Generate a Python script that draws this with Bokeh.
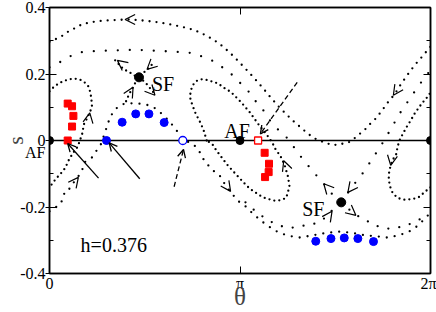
import math
from bokeh.plotting import figure
from bokeh.models import Range1d, FixedTicker, LinearAxis, Label, Span, Arrow, OpenHead, ColumnDataSource
from bokeh.embed import file_html
from bokeh.resources import INLINE

PI = math.pi

# ---------------- data ----------------
x_ticks = [0.0, PI, 2 * PI]
x_tick_labels = ["0", "π", "2π"]
y_ticks = [-0.4, -0.2, 0.0, 0.2, 0.4]
y_tick_labels = ["-0.4", "-0.2", "0", "0.2", "0.4"]
y_minor_ticks = [-0.3, -0.1, 0.1, 0.3]
af_side_label_s = -0.036   # "AF" written just below the 0 label, beside the left axis

af_theta = [0.0, PI, 2 * PI]
af_s = [0.0, 0.0, 0.0]
sf_theta = [1.476, 4.811]
sf_s = [0.190, -0.186]

red_theta = [0.300, 0.372, 0.394, 0.372, 0.300, 3.548, 3.620, 3.614, 3.555]
red_s = [0.111, 0.103, 0.074, 0.042, 0.0, -0.037, -0.070, -0.095, -0.110]
red_open_theta = [3.440]
red_open_s = [0.0]
blue_theta = [0.940, 1.198, 1.422, 1.640, 1.891, 4.391, 4.642, 4.861, 5.085, 5.343]
blue_s = [0.0, 0.055, 0.080, 0.080, 0.054, -0.303, -0.295, -0.293, -0.295, -0.304]
blue_open_theta = [2.198]
blue_open_s = [0.0]

# trajectories
A_theta = [0.000, 0.082, 0.213, 0.312, 0.443, 0.541, 0.673, 0.787, 1.033, 1.312, 1.526, 1.739, 1.936,
           2.182, 2.379, 2.559, 2.707, 2.822, 2.969, 3.100, 3.232, 3.379, 3.527, 3.658, 3.789, 3.921,
           4.035, 4.150, 4.265, 4.363, 4.478, 4.560, 4.642, 4.724, 4.823, 4.921, 5.003, 5.085, 5.184,
           5.266, 5.381, 5.479, 5.577, 5.692, 5.791, 5.906, 6.020, 6.135, 6.250, 6.283]
A_s = [0.297, 0.303, 0.315, 0.328, 0.340, 0.350, 0.355, 0.359, 0.362, 0.364, 0.361, 0.357, 0.351,
       0.342, 0.333, 0.318, 0.303, 0.288, 0.265, 0.241, 0.216, 0.187, 0.156, 0.127, 0.100, 0.076,
       0.056, 0.038, 0.020, 0.007, -0.002, -0.007, -0.013, -0.013, -0.010, -0.007, 0.002, 0.016, 0.029,
       0.046, 0.066, 0.089, 0.114, 0.139, 0.168, 0.198, 0.226, 0.250, 0.275, 0.282]

B1_theta = [0.000, 0.148, 0.312, 0.484, 0.750, 1.411, 2.075, 2.374, 2.712, 2.974, 3.128, 3.276, 3.396,
            3.522, 3.614, 3.757, 3.921, 4.167, 4.359, 4.560, 4.703, 4.811]
B1_s = [0.220, 0.233, 0.251, 0.265, 0.269, 0.273, 0.267, 0.263, 0.238, 0.204, 0.176, 0.149, 0.119,
        0.092, 0.065, 0.035, 0.007, -0.054, -0.096, -0.138, -0.171, -0.186]
B2_theta = [4.811, 4.975, 5.156, 5.304, 5.523, 5.779, 6.097, 6.283]
B2_s = [-0.186, -0.143, -0.101, -0.061, 0.001, 0.082, 0.167, 0.212]

C_theta = [2.592, 2.543, 2.498, 2.400, 2.346, 2.318, 2.324, 2.346, 2.390, 2.444, 2.510, 2.575, 2.636,
           2.707, 2.784, 2.871, 2.991, 3.155, 3.302, 3.440, 3.604, 3.675, 3.729, 3.806, 3.876, 3.932,
           3.958, 3.904, 3.794, 3.712, 3.565, 3.494, 3.302, 3.220, 3.030, 2.931, 2.756, 2.685, 2.592]
C_s = [0.000, 0.030, 0.050, 0.085, 0.112, 0.129, 0.142, 0.159, 0.174, 0.181, 0.184, 0.183, 0.180,
       0.176, 0.171, 0.159, 0.146, 0.116, 0.085, 0.050, 0.012, -0.007, -0.027, -0.046, -0.073, -0.108,
       -0.138, -0.173, -0.180, -0.181, -0.174, -0.168, -0.145, -0.130, -0.093, -0.073, -0.031, -0.011, 0.000]

E1_theta = [0.000, 0.054, 0.110, 0.164, 0.230, 0.300, 0.382, 0.464, 0.530, 0.591, 0.640, 0.668, 0.684,
            0.694, 0.700, 0.664, 0.615, 0.563, 0.546, 0.504, 0.464, 0.382, 0.312, 0.262, 0.192, 0.098, 0.000]
E1_s = [0.148, 0.158, 0.166, 0.173, 0.178, 0.183, 0.186, 0.185, 0.181, 0.173, 0.163, 0.148, 0.133,
        0.118, 0.103, 0.083, 0.065, 0.047, 0.024, 0.001, -0.019, -0.039, -0.061, -0.082, -0.098, -0.117, -0.141]
E2_theta = [6.283, 6.234, 6.086, 5.988, 5.851, 5.741, 5.659, 5.615, 5.594, 5.602, 5.627, 5.659, 5.714,
            5.741, 5.769, 5.824, 5.894, 5.960, 6.025, 6.107, 6.180, 6.262, 6.283]
E2_s = [-0.141, -0.148, -0.171, -0.176, -0.178, -0.173, -0.158, -0.138, -0.116, -0.093, -0.075, -0.058,
        -0.044, -0.019, -0.001, 0.019, 0.042, 0.061, 0.082, 0.103, 0.120, 0.137, 0.148]

G_theta = [0.000, 0.082, 0.189, 0.262, 0.344, 0.410, 0.530, 0.574, 0.700, 0.848, 0.902, 0.951, 1.001,
           1.083, 1.198, 1.329, 1.476, 1.640, 1.739, 1.854, 1.985, 2.100, 2.231, 2.362, 2.461, 2.510,
           2.592, 2.674, 2.805, 2.904, 3.018, 3.117, 3.232, 3.363, 3.576, 3.789, 3.953, 4.134, 4.314,
           4.527, 4.757, 4.970, 5.195, 5.430, 5.577, 5.714, 5.906, 6.070, 6.234, 6.283]
G_s = [-0.213, -0.204, -0.189, -0.150, -0.144, -0.123, -0.095, -0.066, -0.051, -0.011, 0.017, 0.044, 0.071,
       0.094, 0.109, 0.112, 0.111, 0.106, 0.097, 0.080, 0.056, 0.029, 0.000, -0.010, -0.028, -0.049,
       -0.069, -0.087, -0.105, -0.135, -0.162, -0.183, -0.198, -0.222, -0.254, -0.278, -0.287, -0.292, -0.286,
       -0.279, -0.274, -0.277, -0.285, -0.289, -0.292, -0.287, -0.277, -0.257, -0.227, -0.213]

S2a_theta = [3.232, 3.428, 3.625, 3.806, 3.970, 4.232, 4.401, 4.544, 4.675, 4.811]
S2a_s = [-0.186, -0.218, -0.242, -0.257, -0.263, -0.255, -0.249, -0.233, -0.207, -0.186]
S2b_theta = [4.811, 4.938, 5.052, 5.195, 5.348, 5.577, 5.851, 6.119]
S2b_s = [-0.186, -0.207, -0.224, -0.237, -0.255, -0.265, -0.259, -0.236]

S1a_theta = [1.083, 1.202, 1.284, 1.340, 1.394, 1.476, 1.558, 1.612, 1.668, 1.739]
S1a_s = [0.241, 0.218, 0.208, 0.203, 0.196, 0.190, 0.178, 0.168, 0.155, 0.139]
S1b_theta = [1.263, 1.312, 1.378, 1.427, 1.476, 1.558, 1.640, 1.722]
S1b_s = [0.118, 0.139, 0.160, 0.178, 0.190, 0.205, 0.218, 0.235]

# arrow heads on trajectories: tip position and screen direction (degrees)
head_theta = [1.247, 5.671, 0.664, 5.627, 3.863, 2.986, 0.476, 1.120, 1.608, 1.378, 1.739, 4.523, 4.921, 4.659, 5.052]
head_s = [0.364, 0.136, 0.083, -0.075, -0.061, -0.153, -0.111, 0.241, 0.214, 0.160, 0.136, -0.130, -0.156, -0.213, -0.225]
head_angle = [180, 236, 80, -100, 110, -55, 52, 142, 223, 60, -48, 132, -127, 55, -40]

# pointer arrows
ptr_theta0 = [0.809, 1.488, 2.055, 4.085]
ptr_s0 = [-0.113, -0.115, -0.139, 0.175]
ptr_theta1 = [0.300, 0.984, 2.210, 3.478]
ptr_s1 = [-0.009, -0.007, -0.027, 0.020]
ptr_dashed = [False, False, True, True]

# ---------------- figure ----------------
W, H = 436, 312
BL, BR, BT, BB = 47, 6, 7, 36
SERIF = "Liberation Serif"

p = figure(width=W, height=H, x_range=Range1d(0, 2 * PI), y_range=Range1d(-0.4, 0.4),
           output_backend="svg", toolbar_location=None,
           min_border_left=BL, min_border_right=BR, min_border_top=BT, min_border_bottom=BB)
p.grid.visible = False
p.outline_line_color = "black"
p.outline_line_width = 1.5
p.background_fill_color = "white"
p.border_fill_color = "white"

xa = p.xaxis[0]
xa.ticker = FixedTicker(ticks=x_ticks, minor_ticks=[])
xa.major_label_overrides = dict(zip(x_ticks, x_tick_labels))
xa.major_tick_in = 7
xa.major_tick_out = 0
xa.minor_tick_in = 0
xa.minor_tick_out = 0
xa.major_label_standoff = 1
xa.major_label_text_font = SERIF
xa.major_label_text_font_size = "16px"
xa.major_label_text_color = "black"
xa.axis_line_width = 1.5
xa.axis_label = "θ"
xa.axis_label_text_font = SERIF
xa.axis_label_text_font_style = "normal"
xa.axis_label_text_font_size = "25px"
xa.axis_label_standoff = -12

# left axis next to the frame: tick marks only
ya = p.yaxis[0]
ya.ticker = FixedTicker(ticks=y_ticks, minor_ticks=y_minor_ticks)
ya.major_label_overrides = {t: "" for t in y_ticks}
ya.major_tick_in = 7
ya.major_tick_out = 4
ya.minor_tick_in = 4
ya.minor_tick_out = 0
ya.major_label_standoff = 0
ya.major_label_text_font_size = "1px"
ya.axis_line_width = 1.5

# outer left axis: the labels, plus the "AF" note beside 0, and the axis title
lab_ticks = y_ticks + [af_side_label_s]
lab_texts = y_tick_labels + ["AF"]
ya2 = LinearAxis(ticker=FixedTicker(ticks=lab_ticks, minor_ticks=[]),
                 major_label_overrides=dict(zip(lab_ticks, lab_texts)),
                 major_tick_in=0, major_tick_out=0, minor_tick_in=0, minor_tick_out=0,
                 axis_line_color=None, major_label_standoff=0,
                 major_label_text_font=SERIF, major_label_text_font_size="16px",
                 major_label_text_color="black",
                 axis_label="s", axis_label_text_font=SERIF, axis_label_text_font_style="normal",
                 axis_label_text_font_size="22px", axis_label_standoff=-11)
p.add_layout(ya2, "left")

ax_r = LinearAxis(ticker=FixedTicker(ticks=y_ticks, minor_ticks=y_minor_ticks),
                  major_label_overrides={t: "" for t in y_ticks},
                  major_label_text_font_size="1px", major_label_standoff=0,
                  major_tick_in=7, major_tick_out=0, minor_tick_in=4, minor_tick_out=0,
                  axis_line_width=1.5)
p.add_layout(ax_r, "right")
ax_t = LinearAxis(ticker=FixedTicker(ticks=x_ticks, minor_ticks=[]),
                  major_label_overrides={t: "" for t in x_ticks},
                  major_label_text_font_size="1px", major_label_standoff=0,
                  major_tick_in=7, major_tick_out=0, minor_tick_in=0, minor_tick_out=0,
                  axis_line_width=1.5)
p.add_layout(ax_t, "above")

p.add_layout(Span(location=0, dimension="width", line_color="black", line_width=1.5, level="underlay"))

# dotted trajectories
curves = [
    (A_theta, A_s, "0 7"),
    (B1_theta, B1_s, "0 12"),
    (B2_theta, B2_s, "0 12"),
    (C_theta, C_s, "0 5"),
    (E1_theta, E1_s, "0 5"),
    (E2_theta, E2_s, "0 5"),
    (G_theta, G_s, "0 8"),
    (S2a_theta, S2a_s, "0 11"),
    (S2b_theta, S2b_s, "0 11"),
    (S1a_theta, S1a_s, "0 5"),
    (S1b_theta, S1b_s, "0 5"),
]
for th, ss, dash in curves:
    p.line(th, ss, line_color="black", line_width=2.3, line_dash=dash, line_cap="round")

# arrow heads on trajectories
px_t = (W - BL - BR) / (2 * PI)
px_s = (H - BT - BB) / 0.8
hs = [t - math.cos(math.radians(a)) * 2 / px_t for t, a in zip(head_theta, head_angle)]
hy = [s - math.sin(math.radians(a)) * 2 / px_s for s, a in zip(head_s, head_angle)]
head_src = ColumnDataSource(dict(xs=hs, ys=hy, xe=head_theta, ye=head_s))
p.add_layout(Arrow(end=OpenHead(size=10, line_width=1.2, line_color="black"), source=head_src,
                   x_start="xs", y_start="ys", x_end="xe", y_end="ye", line_alpha=0))

# pointer arrows
for dashed in (False, True):
    idx = [i for i, d in enumerate(ptr_dashed) if d == dashed]
    src = ColumnDataSource(dict(xs=[ptr_theta0[i] for i in idx], ys=[ptr_s0[i] for i in idx],
                                xe=[ptr_theta1[i] for i in idx], ye=[ptr_s1[i] for i in idx]))
    p.add_layout(Arrow(end=OpenHead(size=8, line_width=1.3, line_color="black"), source=src,
                       x_start="xs", y_start="ys", x_end="xe", y_end="ye",
                       line_width=1.3, line_color="black", line_dash="5 3" if dashed else "solid"))

# markers
p.scatter(red_theta, red_s, marker="square", size=7, color="red")
p.scatter(red_open_theta, red_open_s, marker="square", size=7, fill_color="white",
          line_color="red", line_width=1.3)
p.scatter(blue_theta, blue_s, marker="circle", size=8, color="blue")
p.scatter(blue_open_theta, blue_open_s, marker="circle", size=8, fill_color="white",
          line_color="blue", line_width=1.3)
p.scatter(af_theta, af_s, marker="circle", size=8, color="black")
p.scatter(sf_theta, sf_s, marker="circle", size=9, color="black")

# texts
texts = [
    (1.690, 0.169, "SF"),
    (4.167, -0.207, "SF"),
    (2.882, 0.030, "AF"),
    (0.513, -0.313, "h=0.376"),
]
for tx, ty, tt in texts:
    p.add_layout(Label(x=tx, y=ty, text=tt, text_font=SERIF, text_font_size="20px",
                       text_align="left", text_baseline="alphabetic", text_color="black"))

open("out.html", "w").write(file_html(p, INLINE))
